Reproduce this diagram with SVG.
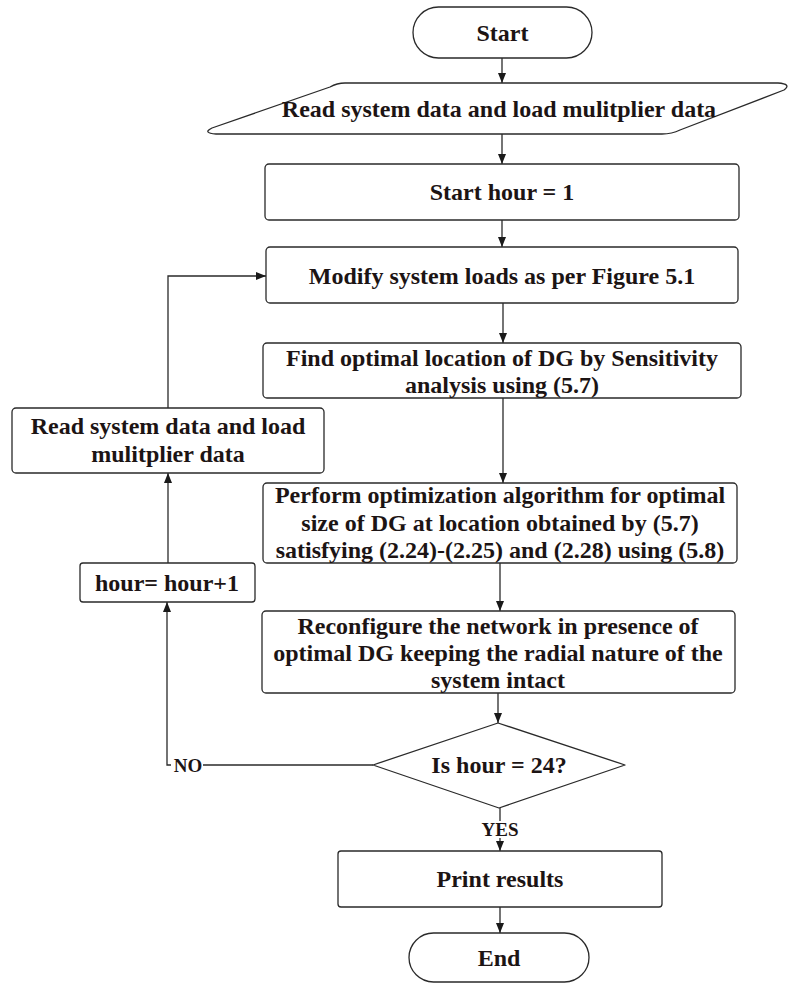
<svg xmlns="http://www.w3.org/2000/svg" width="788" height="983" viewBox="0 0 788 983">
<style>
.n{fill:#fff;stroke:#2a2a2a;stroke-width:1.3;stroke-linejoin:round}
.t{font-family:"Liberation Serif","Times New Roman",serif;font-weight:bold;font-size:24px;fill:#1c1414;text-anchor:middle}
.s{font-size:19px}
.c{fill:none;stroke:#2a2a2a;stroke-width:1.3}
</style>
<defs>
<marker id="ah" markerUnits="userSpaceOnUse" markerWidth="10" markerHeight="10" viewBox="0 0 10 10" refX="10" refY="5" orient="auto">
<path d="M0,1 L10,5 L0,9 Z" fill="#1a1a1a"/>
</marker>
</defs>
<rect width="788" height="983" fill="#fff"/>
<g id="connectors">
<line class="c" x1="502" y1="58" x2="502" y2="83" marker-end="url(#ah)"/>
<line class="c" x1="502" y1="134" x2="502" y2="164" marker-end="url(#ah)"/>
<line class="c" x1="502" y1="220" x2="502" y2="247" marker-end="url(#ah)"/>
<line class="c" x1="503" y1="303" x2="503" y2="343" marker-end="url(#ah)"/>
<line class="c" x1="503" y1="398" x2="503" y2="483" marker-end="url(#ah)"/>
<line class="c" x1="500" y1="563" x2="500" y2="611" marker-end="url(#ah)"/>
<line class="c" x1="498" y1="693" x2="498" y2="723" marker-end="url(#ah)"/>
<line class="c" x1="500" y1="808" x2="500" y2="821"/>
<line class="c" x1="500" y1="838" x2="500" y2="851" marker-end="url(#ah)"/>
<line class="c" x1="500" y1="907" x2="500" y2="933" marker-end="url(#ah)"/>
<polyline class="c" points="168,408 168,276 266,276" marker-end="url(#ah)"/>
<line class="c" x1="168" y1="563" x2="168" y2="473" marker-end="url(#ah)"/>
<line class="c" x1="373" y1="765" x2="203" y2="765"/>
<polyline class="c" points="171,765 167,765 167,602" marker-end="url(#ah)"/>
<text class="t s" x="500" y="836">YES</text>
<text class="t s" x="188" y="772">NO</text>
</g>
<g id="start">
<rect class="n" x="413" y="7" width="179" height="51" rx="25.5"/>
<text class="t" x="502.5" y="41">Start</text>
</g>
<g id="read-input">
<path class="n" d="M345,83 L778,83 Q792,84 784,90 L680,130 Q672,134 662,134 L216,134 Q202,133 212,128 L330,87 Q337,83 345,83 Z"/>
<text class="t" x="499" y="117">Read system data and load mulitplier data</text>
</g>
<g id="start-hour">
<rect class="n" x="265" y="164" width="474" height="56" rx="4"/>
<text class="t" x="502" y="200">Start hour = 1</text>
</g>
<g id="modify">
<rect class="n" x="266" y="247" width="472" height="56" rx="4"/>
<text class="t" x="502" y="284">Modify system loads as per Figure 5.1</text>
</g>
<g id="find">
<rect class="n" x="263" y="343" width="478" height="55" rx="4"/>
<text class="t" x="502" y="366">Find optimal location of DG by Sensitivity</text>
<text class="t" x="502" y="393">analysis using (5.7)</text>
</g>
<g id="read-system">
<rect class="n" x="12" y="408" width="312" height="65" rx="4"/>
<text class="t" x="168" y="434">Read system data and load</text>
<text class="t" x="168" y="462">mulitplier data</text>
</g>
<g id="perform">
<rect class="n" x="263" y="483" width="474" height="80" rx="4"/>
<text class="t" x="500" y="503">Perform optimization algorithm for optimal</text>
<text class="t" x="500" y="531">size of DG at location obtained by (5.7)</text>
<text class="t" x="500" y="558">satisfying (2.24)-(2.25) and (2.28) using (5.8)</text>
</g>
<g id="hour-inc">
<rect class="n" x="80" y="563" width="175" height="39" rx="3"/>
<text class="t" x="167" y="591">hour= hour+1</text>
</g>
<g id="reconfigure">
<rect class="n" x="262" y="611" width="473" height="82" rx="4"/>
<text class="t" x="498" y="634">Reconfigure the network in presence of</text>
<text class="t" x="498" y="661">optimal DG keeping the radial nature of the</text>
<text class="t" x="498" y="688">system intact</text>
</g>
<g id="decision">
<polygon class="n" points="373,765 498,723 625,765 499,808"/>
<text class="t" x="499" y="773">Is hour = 24?</text>
</g>
<g id="print">
<rect class="n" x="338" y="851" width="324" height="56" rx="3"/>
<text class="t" x="500" y="887">Print results</text>
</g>
<g id="end">
<rect class="n" x="409" y="933" width="180" height="49" rx="24.5"/>
<text class="t" x="499" y="966">End</text>
</g>
</svg>
